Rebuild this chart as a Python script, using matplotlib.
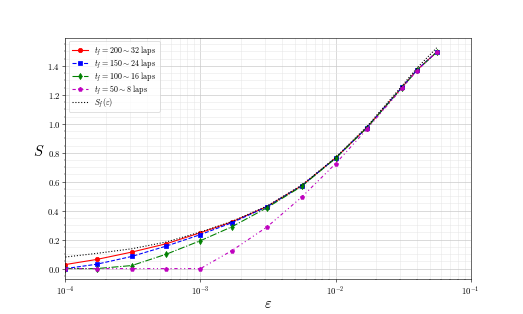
import matplotlib
matplotlib.use('Agg')
import matplotlib.pyplot as plt
from matplotlib.ticker import AutoMinorLocator

plt.rcParams['font.family'] = 'serif'
plt.rcParams['font.serif'] = ['cmr10']
plt.rcParams['mathtext.fontset'] = 'cm'
plt.rcParams['axes.formatter.use_mathtext'] = True

eps = [1e-4, 1.7e-4, 3.1e-4, 5.6e-4, 1e-3, 1.7e-3, 3.1e-3, 5.6e-3,
       1e-2, 1.7e-2, 3.1e-2, 4.0e-2, 5.6e-2]
s_200 = [0.028, 0.063, 0.114, 0.172, 0.248, 0.322, 0.428, 0.572, 0.764, 0.973, 1.252, 1.372, 1.496]
s_150 = [0.0, 0.030, 0.084, 0.156, 0.235, 0.316, 0.427, 0.571, 0.764, 0.973, 1.252, 1.372, 1.496]
s_100 = [0.0, 0.0, 0.021, 0.100, 0.193, 0.288, 0.420, 0.568, 0.762, 0.972, 1.250, 1.370, 1.495]
s_50 = [0.0, 0.0, 0.0, 0.0, 0.0, 0.123, 0.287, 0.493, 0.725, 0.962, 1.245, 1.368, 1.495]
s_f = [0.080, 0.105, 0.137, 0.184, 0.253, 0.325, 0.432, 0.576, 0.767, 0.980, 1.262, 1.385, 1.525]

fig = plt.figure(figsize=(10, 314 / 52.3), dpi=52.3)
ax = fig.add_subplot(111)

ax.plot(eps, s_200, 'r-o', label=r'$t_f = 200 \sim 32$ laps')
ax.plot(eps, s_150, 'b--s', label=r'$t_f = 150 \sim 24$ laps')
ax.plot(eps, s_100, 'g-.d', label=r'$t_f = 100 \sim 16$ laps')
ax.plot(eps, s_50, color='m', marker='p', linestyle=(0, (3, 2.5, 1, 2.5, 1, 2.5)),
        label=r'$t_f = 50 \sim 8$ laps')
ax.plot(eps, s_f, 'k:', label=r'$S_f(\varepsilon)$')

ax.set_xscale('log')
ax.set_xlim(1e-4, 1e-1)
ax.set_ylim(-0.075, 1.595)
ax.yaxis.set_minor_locator(AutoMinorLocator())
ax.tick_params(labelsize=12)
ax.grid(True, which='major', color='#c8c8c8', lw=0.9)
ax.grid(True, which='minor', color='#e6e6e6', lw=0.7)
ax.set_axisbelow(True)

ax.set_xlabel(r'$\varepsilon$', fontsize=20, labelpad=0)
ax.set_ylabel(r'$S$', fontsize=20, rotation=0, labelpad=12)
ax.legend(loc='upper left', fontsize=11, labelspacing=0.0, borderaxespad=0.4)

plt.savefig('out.png', dpi=52.3)
